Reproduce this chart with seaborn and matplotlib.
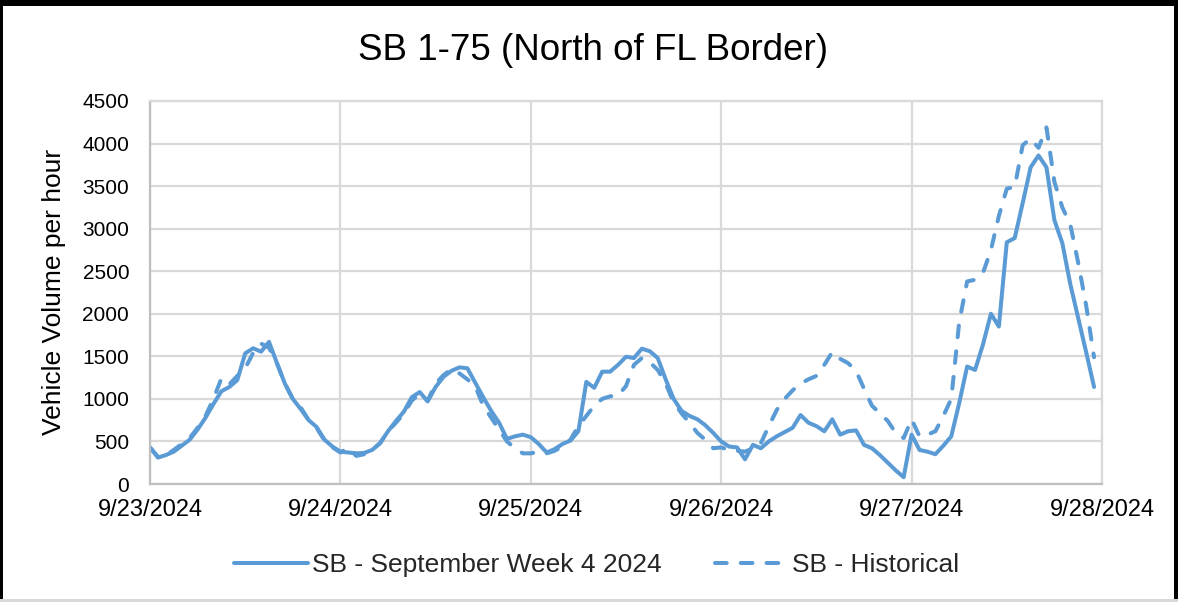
import numpy as np
import pandas as pd
import matplotlib
matplotlib.use("Agg")
import matplotlib.pyplot as plt
from matplotlib.lines import Line2D
from matplotlib.patches import Rectangle
import seaborn as sns

# Hourly southbound volumes, 9/23/2024 00:00 through 9/27/2024 23:00
date_labels = ["9/23/2024", "9/24/2024", "9/25/2024", "9/26/2024", "9/27/2024", "9/28/2024"]

week4_2024 = [
    430, 310, 340, 380, 450, 520, 640, 780, 940, 1090, 1140, 1220,
    1535, 1595, 1555, 1670, 1420, 1180, 1000, 880, 750, 670, 520, 440,
    380, 370, 360, 365, 400, 480, 620, 740, 850, 1020, 1080, 970,
    1140, 1260, 1330, 1370, 1360, 1190, 1020, 860, 720, 530, 560, 580,
    550, 470, 370, 410, 470, 510, 620, 1200, 1130, 1320, 1320, 1400,
    1495, 1480, 1590, 1560, 1480, 1230, 1000, 860, 800, 760, 690, 600,
    500, 440, 430, 290, 460, 420, 500, 560, 610, 660, 810, 720,
    680, 620, 760, 580, 620, 630, 460, 420, 340, 250, 160, 80,
    580, 400, 380, 350, 450, 560, 950, 1380, 1340, 1640, 2000, 1850,
    2840, 2890, 3300, 3720, 3860, 3720, 3100, 2830, 2350, 1950, 1550, 1140,
]

historical = [
    430, 320, 340, 400, 470, 540, 660, 800, 1000, 1240, 1170, 1270,
    1360, 1540, 1650, 1600, 1420, 1180, 1000, 900, 750, 660, 510, 430,
    370, 430, 330, 350, 400, 480, 620, 720, 830, 980, 1060, 980,
    1180, 1280, 1350, 1300, 1230, 1150, 920, 780, 640, 500, 420, 360,
    360, 380, 360, 390, 440, 520, 680, 800, 920, 1000, 1030, 1040,
    1150, 1400, 1480, 1430, 1340, 1180, 960, 830, 720, 600, 520, 420,
    430, 400, 390, 380, 420, 480, 680, 870, 1000, 1100, 1180, 1230,
    1270, 1400, 1550, 1470, 1420, 1330, 1120, 920, 830, 740, 600, 540,
    760, 560, 580, 620, 800, 1000, 1900, 2380, 2400, 2480, 2750, 3150,
    3470, 3490, 3980, 4060, 3950, 4190, 3550, 3250, 3050, 2600, 2100, 1490,
]

series_names = ["SB - September Week 4 2024", "SB - Historical"]
y_ticks = list(range(0, 4501, 500))

hours = np.arange(len(week4_2024))
df = pd.DataFrame({
    "hour": np.concatenate([hours, hours]),
    "volume": week4_2024 + historical,
    "series": [series_names[0]] * len(hours) + [series_names[1]] * len(hours),
})

sns.set_theme(style="white")
plt.rcParams["font.family"] = ["Liberation Sans", "DejaVu Sans"]

W, H = 1178, 602
fig = plt.figure(figsize=(W / 100, H / 100), dpi=100)
fig.patch.set_facecolor("white")

ax_left, ax_right, ax_top, ax_bottom = 150, 1102, 101, 484
ax = fig.add_axes([ax_left / W, 1 - ax_bottom / H,
                   (ax_right - ax_left) / W, (ax_bottom - ax_top) / H])

blue = "#5B9BD5"
lw = 2.9
dash = (2.9, 3.5)
sns.lineplot(
    data=df, x="hour", y="volume", hue="series", style="series",
    palette=[blue, blue],
    dashes={series_names[0]: "", series_names[1]: dash},
    linewidth=lw, ax=ax, legend=False,
)
for ln in ax.lines:
    ln.set_solid_capstyle("round")
    ln.set_dash_capstyle("round")
    ln.set_solid_joinstyle("round")
    ln.set_dash_joinstyle("round")

ax.set_xlim(0, 120)
ax.set_ylim(0, 4500)
ax.set_xticks(np.arange(0, 121, 24))
ax.set_xticklabels(date_labels)
ax.set_yticks(y_ticks)
ax.set_yticklabels([str(v) for v in y_ticks])
ax.set_xlabel("")
ax.set_ylabel("")

grid_color = "#D9D9D9"
ax.grid(True, color=grid_color, linewidth=1.6)
ax.set_axisbelow(True)
for side in ["left", "bottom", "top", "right"]:
    ax.spines[side].set_color(grid_color)
    ax.spines[side].set_linewidth(1.6)
ax.spines["left"].set_color("#BFBFBF")
ax.spines["bottom"].set_color("#BFBFBF")

ax.tick_params(axis="y", length=0, pad=15, labelsize=15, labelcolor="black")
ax.tick_params(axis="x", length=0, pad=11, labelsize=17, labelcolor="black")

fig.text(593.5 / W, 1 - 51 / H, "SB 1-75 (North of FL Border)",
         fontsize=26.5, ha="center", va="center", color="black")
fig.text(54 / W, 1 - 292 / H, "Vehicle Volume per hour", rotation=90,
         fontsize=19, ha="center", va="center", color="black")

handles = [
    Line2D([], [], color=blue, linewidth=lw, solid_capstyle="round"),
    Line2D([], [], color=blue, linewidth=lw, linestyle=(0, dash),
           dash_capstyle="round"),
]
fig.legend(handles, series_names, loc="center", bbox_to_anchor=(597 / W, 1 - 565 / H),
           ncol=2, frameon=False, fontsize=19, handlelength=2.8,
           handletextpad=0.15, columnspacing=2.0)

# Chart frame
fig.add_artist(Rectangle((0, 1 - 6 / H), 1, 6 / H, transform=fig.transFigure,
                         facecolor="black", edgecolor="none"))
fig.add_artist(Rectangle((0, 0), 3 / W, 1, transform=fig.transFigure,
                         facecolor="black", edgecolor="none"))
fig.add_artist(Rectangle((1 - 4 / W, 0), 4 / W, 1, transform=fig.transFigure,
                         facecolor="black", edgecolor="none"))
fig.add_artist(Rectangle((0, 0), 1, 3 / H, transform=fig.transFigure,
                         facecolor="#D9D9D9", edgecolor="none"))

fig.savefig("out.png", dpi=100, facecolor="white")
